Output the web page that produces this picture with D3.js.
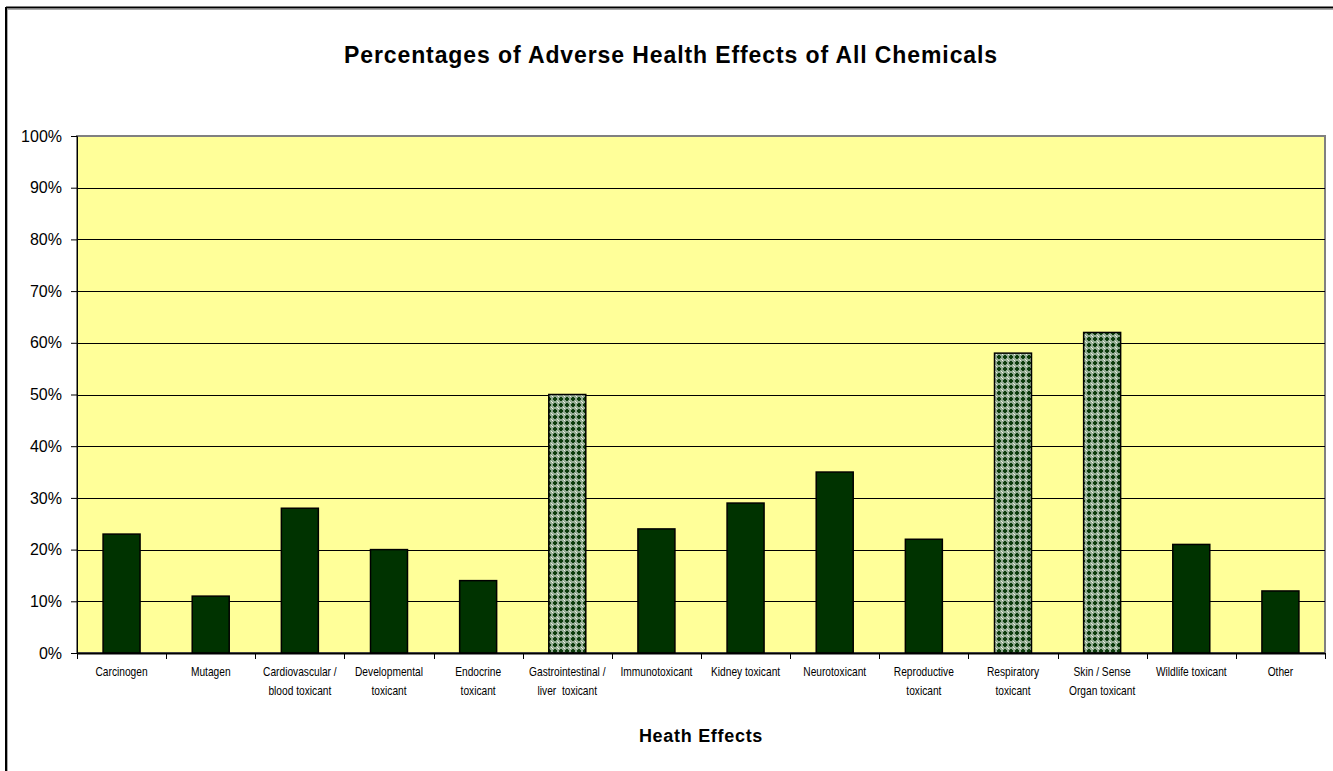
<!DOCTYPE html>
<html>
<head>
<meta charset="utf-8">
<script src="https://cdn.jsdelivr.net/npm/d3@7"></script>
<style>
  html, body { margin: 0; padding: 0; background: #fff; }
  svg { display: block; font-family: "Liberation Sans", Arial, sans-serif; }
</style>
</head>
<body>
<svg id="chart" width="1333" height="771"></svg>
<script>
// ---- data ----
const categories = [
  "Carcinogen", "Mutagen", "Cardiovascular / blood toxicant", "Developmental toxicant",
  "Endocrine toxicant", "Gastrointestinal / liver toxicant", "Immunotoxicant", "Kidney toxicant",
  "Neurotoxicant", "Reproductive toxicant", "Respiratory toxicant", "Skin / Sense Organ toxicant",
  "Wildlife toxicant", "Other"
];
const labelLines = [
  ["Carcinogen"], ["Mutagen"], ["Cardiovascular /", "blood toxicant"], ["Developmental", "toxicant"],
  ["Endocrine", "toxicant"], ["Gastrointestinal /", "liver  toxicant"], ["Immunotoxicant"], ["Kidney toxicant"],
  ["Neurotoxicant"], ["Reproductive", "toxicant"], ["Respiratory", "toxicant"], ["Skin / Sense", "Organ toxicant"],
  ["Wildlife toxicant"], ["Other"]
];
const values = [0.23, 0.11, 0.28, 0.20, 0.14, 0.50, 0.24, 0.29, 0.35, 0.22, 0.58, 0.62, 0.21, 0.12];
const highlighted = [false, false, false, false, false, true, false, false, false, false, true, true, false, false];
const yTicks = [0, 0.1, 0.2, 0.3, 0.4, 0.5, 0.6, 0.7, 0.8, 0.9, 1.0];
const titleText = "Percentages of Adverse Health Effects of All Chemicals";
const xTitleText = "Heath Effects";

// ---- layout ----
const svg = d3.select("#chart");
const plot = { left: 77, right: 1325, top: 136, bottom: 653 };

// chart border (left + top)
svg.append("line").attr("x1", 6).attr("x2", 1333).attr("y1", 7.5).attr("y2", 7.5)
  .attr("stroke", "#000").attr("stroke-width", 2);
svg.append("line").attr("x1", 6).attr("x2", 6).attr("y1", 7).attr("y2", 771)
  .attr("stroke", "#000").attr("stroke-width", 2);
svg.append("line").attr("x1", 8).attr("x2", 1333).attr("y1", 9.5).attr("y2", 9.5)
  .attr("stroke", "#aaa").attr("stroke-width", 1);
svg.append("line").attr("x1", 7.5).attr("x2", 7.5).attr("y1", 9).attr("y2", 771)
  .attr("stroke", "#aaa").attr("stroke-width", 1);

// pattern for hatched bars
const defs = svg.append("defs");
const pat = defs.append("pattern").attr("id", "hatch").attr("patternUnits", "userSpaceOnUse")
  .attr("width", 6).attr("height", 6);
pat.append("rect").attr("width", 6).attr("height", 6).attr("fill", "#94ac94");
pat.append("rect").attr("x", 2).attr("y", 1).attr("width", 2).attr("height", 4).attr("fill", "#0d3d0d");
pat.append("rect").attr("x", 1).attr("y", 2).attr("width", 4).attr("height", 2).attr("fill", "#0d3d0d");
pat.append("rect").attr("x", 0).attr("y", 0).attr("width", 1).attr("height", 1).attr("fill", "#eef3e6");
pat.append("rect").attr("x", 5).attr("y", 5).attr("width", 1).attr("height", 1).attr("fill", "#e4ecdc");

// scales
const x = d3.scaleBand().domain(categories).range([plot.left, plot.right])
  .paddingInner(0.585).paddingOuter(0.2925);
const y = d3.scaleLinear().domain([0, 1]).range([plot.bottom, plot.top]);

// plot area
svg.append("rect").attr("x", plot.left).attr("y", plot.top)
  .attr("width", plot.right - plot.left).attr("height", plot.bottom - plot.top)
  .attr("fill", "#ffff99").attr("stroke", "#808080").attr("stroke-width", 2);

// gridlines
svg.append("g").selectAll("line").data(yTicks.filter(d => d > 0 && d < 1)).join("line")
  .attr("x1", plot.left).attr("x2", plot.right)
  .attr("y1", d => Math.round(y(d)) + 0.5).attr("y2", d => Math.round(y(d)) + 0.5)
  .attr("stroke", "#000").attr("stroke-width", 1);

// bars
svg.append("g").selectAll("rect").data(categories).join("rect")
  .attr("x", d => x(d))
  .attr("y", (d, i) => y(values[i]))
  .attr("width", x.bandwidth())
  .attr("height", (d, i) => y(0) - y(values[i]))
  .attr("fill", (d, i) => highlighted[i] ? "url(#hatch)" : "#003300")
  .attr("stroke", "#000").attr("stroke-width", 1.5);

// y axis
const yAxis = svg.append("g").attr("transform", `translate(${plot.left},0)`)
  .call(d3.axisLeft(y).tickValues(yTicks).tickFormat(d3.format(".0%")).tickSize(6).tickPadding(9));
yAxis.select(".domain").attr("stroke", "#000").attr("stroke-width", 1);
yAxis.selectAll(".tick line").attr("stroke", "#000");
yAxis.selectAll(".tick text").attr("font-size", 16).attr("fill", "#000")
  .attr("font-family", "Liberation Sans, Arial, sans-serif");

// x axis
const xAxis = svg.append("g").attr("transform", `translate(0,${plot.bottom})`);
xAxis.append("line").attr("x1", plot.left).attr("x2", plot.right).attr("y1", 0.5).attr("y2", 0.5)
  .attr("stroke", "#000").attr("stroke-width", 2);
const boundaries = d3.range(categories.length + 1).map(i => plot.left + i * x.step());
xAxis.selectAll("line.tk").data(boundaries).join("line").attr("class", "tk")
  .attr("x1", d => Math.round(d) + 0.5).attr("x2", d => Math.round(d) + 0.5)
  .attr("y1", 0).attr("y2", 6).attr("stroke", "#000");

// x labels
const lab = svg.append("g").selectAll("g").data(categories).join("g")
  .attr("transform", d => `translate(${x(d) + x.bandwidth() / 2},0)`);
lab.each(function(d, i) {
  const g = d3.select(this);
  labelLines[i].forEach((ln, k) => {
    g.append("text").text(ln)
      .attr("transform", `translate(0,${676 + k * 19}) scale(0.85,1)`)
      .attr("text-anchor", "middle").attr("font-size", 12).attr("fill", "#000")
      .style("white-space", "pre");
  });
});

// titles
svg.append("text").text(titleText).attr("x", 671).attr("y", 63)
  .attr("text-anchor", "middle").attr("font-size", 23).attr("font-weight", "bold")
  .attr("letter-spacing", 0.9).attr("fill", "#000");
svg.append("text").text(xTitleText).attr("x", (plot.left + plot.right) / 2).attr("y", 742)
  .attr("text-anchor", "middle").attr("font-size", 18).attr("font-weight", "bold")
  .attr("letter-spacing", 0.7).attr("fill", "#000");
</script>
</body>
</html>
